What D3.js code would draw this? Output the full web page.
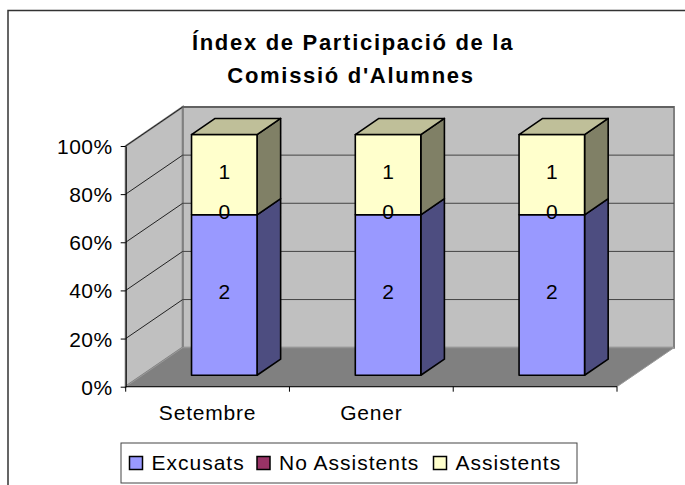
<!DOCTYPE html>
<html>
<head>
<meta charset="utf-8">
<script src="https://cdn.jsdelivr.net/npm/d3@7"></script>
<style>
  body { margin: 0; background: #fff; }
  svg { display: block; font-family: "Liberation Sans", Arial, sans-serif; }
</style>
</head>
<body>
<svg id="chart" width="685" height="485"></svg>
<script>
// data
const categories = ['Setembre', 'Gener', ''];
const seriesNames = ['Excusats', 'No Assistents', 'Assistents'];
const excusats = [2, 2, 2];
const noAssistents = [0, 0, 0];
const assistents = [1, 1, 1];
const yTicks = [0, 0.2, 0.4, 0.6, 0.8, 1];

const colors = ['#9999FF', '#993366', '#FFFFCC'];

const svg = d3.select('#chart');

// chart frame (runs off the right / bottom of the picture)
svg.append('rect')
  .attr('x', 8).attr('y', 10.5)
  .attr('width', 700).attr('height', 500)
  .attr('fill', '#fff').attr('stroke', '#333').attr('stroke-width', 1.5);

// title
const title = svg.append('text')
  .attr('text-anchor', 'middle')
  .style('font-size', '22px').style('font-weight', 'bold')
  .style('letter-spacing', '1.7px');
title.append('tspan').attr('x', 353).attr('y', 50).text('Índex de Participació de la');
title.append('tspan').attr('x', 351).attr('y', 83).text("Comissió d'Alumnes");

// scales (front plane) + 3d depth offset
const x0 = 125.7, x1 = 617;
const x = d3.scaleBand().domain(d3.range(categories.length)).range([x0, x1]);
const y = d3.scaleLinear().domain([0, 1]).range([386.7, 146]);
const DX = 57, DY = -39;

const pts = p => p.map(d => d.join(',')).join(' ');

// walls
svg.append('polygon')
  .attr('points', pts([[x0 + DX, y(1) + DY], [x1 + DX, y(1) + DY], [x1 + DX, y(0) + DY], [x0 + DX, y(0) + DY]]))
  .attr('fill', '#C0C0C0').attr('stroke', '#808080').attr('stroke-width', 2);
svg.append('polygon')
  .attr('points', pts([[x0, y(1)], [x0 + DX, y(1) + DY], [x0 + DX, y(0) + DY], [x0, y(0)]]))
  .attr('fill', '#C0C0C0').attr('stroke', '#808080').attr('stroke-width', 2);
// floor
svg.append('polygon')
  .attr('points', pts([[x0, y(0)], [x1, y(0)], [x1 + DX, y(0) + DY], [x0 + DX, y(0) + DY]]))
  .attr('fill', '#808080').attr('stroke', '#9a9a9a').attr('stroke-width', 1);

// gridlines
const grid = svg.append('g').attr('stroke', '#222').attr('stroke-width', 1);
yTicks.filter(t => t > 0).forEach(t => {
  grid.append('line')
    .attr('x1', x0).attr('y1', y(t)).attr('x2', x0 + DX).attr('y2', y(t) + DY);
  grid.append('line')
    .attr('x1', x0 + DX).attr('y1', y(t) + DY).attr('x2', x1 + DX).attr('y2', y(t) + DY)
    .attr('stroke', '#444');
});

// y axis
const yAxis = svg.append('g')
  .attr('transform', 'translate(' + x0 + ',0)')
  .call(d3.axisLeft(y).tickValues(yTicks).tickFormat(d3.format('.0%')).tickSize(5).tickSizeOuter(0).tickPadding(8));
yAxis.select('.domain').attr('stroke', '#000');
yAxis.selectAll('.tick line').attr('stroke', '#000');
yAxis.selectAll('text')
  .attr('fill', '#000').attr('dy', '7.5')
  .style('font-size', '21px').style('letter-spacing', '0.5px')
  .style('font-family', '"Liberation Sans", Arial, sans-serif');

// x axis (ticks at band edges)
svg.append('line').attr('x1', x0).attr('x2', x1).attr('y1', y(0)).attr('y2', y(0))
  .attr('stroke', '#000');
const edges = d3.range(categories.length).map(i => x(i)).concat([x1]);
svg.selectAll('.xtick').data(edges).enter().append('line')
  .attr('x1', d => d).attr('x2', d => d)
  .attr('y1', y(0)).attr('y2', y(0) + 5)
  .attr('stroke', '#000');
svg.selectAll('.xlab').data(categories).enter().append('text')
  .attr('x', (d, i) => x(i) + x.bandwidth() / 2)
  .attr('y', 419.5)
  .attr('text-anchor', 'middle')
  .style('font-size', '21px').style('letter-spacing', '0.8px')
  .text(d => d);

// stacked 100% bars
const table = categories.map((c, i) => ({ i, s0: excusats[i], s1: noAssistents[i], s2: assistents[i] }));
const stacked = d3.stack().keys(['s0', 's1', 's2']).offset(d3.stackOffsetExpand)(table);

const bw = x.bandwidth() * 0.4;
const depthFrac = 0.414;
const bdx = DX * depthFrac, bdy = DY * depthFrac;
const offX = DX * (1 - depthFrac) / 2, offY = DY * (1 - depthFrac) / 2;

const shade = (c, k) => { const r = d3.rgb(c); return d3.rgb(r.r * k, r.g * k, r.b * k).formatHex(); };

const bars = svg.append('g').attr('stroke', '#000').attr('stroke-width', 1.6).attr('stroke-linejoin', 'round');
table.forEach((row, i) => {
  const fx = x(i) + (x.bandwidth() - bw) / 2 + offX;
  stacked.forEach((layer, k) => {
    const [a, b] = layer[i];
    if (b - a <= 0) return;
    const yb = y(a) + offY, yt = y(b) + offY;
    // side
    bars.append('polygon')
      .attr('points', pts([[fx + bw, yt], [fx + bw + bdx, yt + bdy], [fx + bw + bdx, yb + bdy], [fx + bw, yb]]))
      .attr('fill', shade(colors[k], 0.5));
    // front
    bars.append('rect')
      .attr('x', fx).attr('y', yt).attr('width', bw).attr('height', yb - yt)
      .attr('fill', colors[k]);
    // top (only for the last segment)
    if (b >= 1) {
      bars.append('polygon')
        .attr('points', pts([[fx, yt], [fx + bdx, yt + bdy], [fx + bw + bdx, yt + bdy], [fx + bw, yt]]))
        .attr('fill', shade(colors[k], 0.75));
    }
  });
});

// data labels
const vals = [excusats, noAssistents, assistents];
const labels = svg.append('g').style('font-size', '21px').attr('text-anchor', 'middle').attr('fill', '#000');
table.forEach((row, i) => {
  const fx = x(i) + (x.bandwidth() - bw) / 2 + offX;
  stacked.forEach((layer, k) => {
    const [a, b] = layer[i];
    labels.append('text')
      .attr('x', fx + bw / 2)
      .attr('y', y((a + b) / 2) + offY + 4)
      .text(vals[k][i]);
  });
});

// legend
const legend = svg.append('g');
legend.append('rect')
  .attr('x', 121).attr('y', 443).attr('width', 456).attr('height', 40)
  .attr('fill', '#fff').attr('stroke', '#444').attr('stroke-width', 1);
const legX = [129.5, 257, 433.5];
seriesNames.forEach((n, k) => {
  legend.append('rect')
    .attr('x', legX[k]).attr('y', 456.5).attr('width', 13).attr('height', 13)
    .attr('fill', colors[k]).attr('stroke', '#000').attr('stroke-width', 1.5);
  legend.append('text')
    .attr('x', legX[k] + 22).attr('y', 470)
    .style('font-size', '21px').style('letter-spacing', '1px')
    .text(n);
});
</script>
</body>
</html>
